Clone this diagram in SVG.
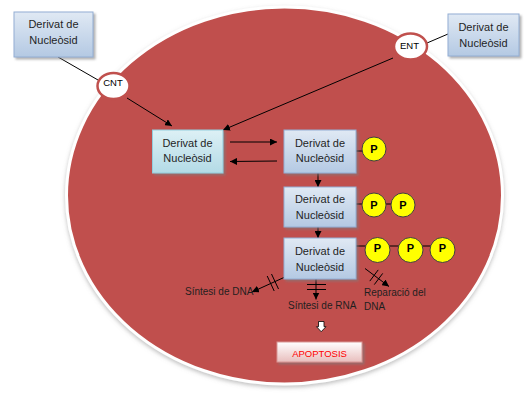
<svg xmlns="http://www.w3.org/2000/svg" width="527" height="400" viewBox="0 0 527 400">
  <defs>
    <linearGradient id="gBlue" x1="0" y1="0" x2="0" y2="1">
      <stop offset="0" stop-color="#E0E9F4"/>
      <stop offset="1" stop-color="#B4C9E3"/>
    </linearGradient>
    <linearGradient id="gCyan" x1="0" y1="0" x2="0" y2="1">
      <stop offset="0" stop-color="#DDF0F5"/>
      <stop offset="1" stop-color="#B3DBE6"/>
    </linearGradient>
    <linearGradient id="gPink" x1="0" y1="0" x2="0" y2="1">
      <stop offset="0" stop-color="#FFFFFF"/>
      <stop offset="1" stop-color="#E8BEBD"/>
    </linearGradient>
    <filter id="sh" x="-20%" y="-20%" width="150%" height="150%">
      <feDropShadow dx="2" dy="2" stdDeviation="1" flood-color="#7F7F7F" flood-opacity="0.6"/>
    </filter>
    <filter id="shE" x="-5%" y="-5%" width="110%" height="110%">
      <feDropShadow dx="0" dy="2" stdDeviation="2" flood-color="#808080" flood-opacity="0.5"/>
    </filter>
    <marker id="ah" viewBox="0 0 10 10" refX="10" refY="5" markerWidth="7" markerHeight="7" markerUnits="userSpaceOnUse" orient="auto">
      <path d="M0,0 L10,5 L0,10 Z" fill="#000"/>
    </marker>
    <style>
      .boxB { fill: url(#gBlue); stroke: #93AED3; stroke-width: 1; filter: url(#sh); }
      .boxC { fill: url(#gCyan); stroke: #93CDDD; stroke-width: 1; filter: url(#sh); }
      .boxP { fill: url(#gPink); stroke: #D99694; stroke-width: 1; filter: url(#sh); }
      .t { font-family: "Liberation Sans", Arial, sans-serif; font-size: 11px; fill: #1F1F1F; text-anchor: middle; }
      .s { font-family: "Liberation Sans", Arial, sans-serif; font-size: 10px; fill: #1F1F1F; }
      .tr { font-family: "Liberation Sans", Arial, sans-serif; font-size: 9.5px; fill: #000; text-anchor: middle; }
      .p { font-family: "Liberation Sans", Arial, sans-serif; font-size: 11px; font-weight: bold; fill: #000; text-anchor: middle; }
      .pc { fill: #FFFF00; stroke: #404040; stroke-width: 1; }
      .ln { stroke: #000; stroke-width: 1; fill: none; }
      .arr { stroke: #000; stroke-width: 1; fill: none; marker-end: url(#ah); }
      .tp { fill: #FFFFFF; stroke: #C0504D; stroke-width: 2.5; }
    </style>
  </defs>

  <g id="cell">
    <ellipse cx="284.5" cy="195.5" rx="218" ry="188.5" fill="#C0504D" stroke="#FFFFFF" stroke-width="3" filter="url(#shE)"/>
  </g>

  <g id="connectors">
    <line class="ln" x1="58" y1="57" x2="98" y2="80"/>
    <line class="arr" x1="127" y1="98" x2="172" y2="126"/>
    <line class="ln" x1="448" y1="34" x2="427" y2="43"/>
    <line class="arr" x1="393" y1="58" x2="223" y2="130"/>
    <line class="arr" x1="230" y1="142" x2="277" y2="142"/>
    <line class="arr" x1="277" y1="161" x2="230" y2="161.5"/>
    <line class="arr" x1="318" y1="173" x2="318" y2="187"/>
    <line class="arr" x1="318" y1="227" x2="318" y2="238"/>
    <line class="ln" x1="356" y1="151" x2="362" y2="151"/>
    <line class="ln" x1="356" y1="204" x2="402" y2="204"/>
    <line class="ln" x1="356" y1="246" x2="442" y2="246"/>
    <line class="arr" x1="285" y1="277" x2="252" y2="292"/>
    <line class="ln" x1="267.2" y1="276" x2="274.2" y2="291"/>
    <line class="ln" x1="271.5" y1="274" x2="278.5" y2="289"/>
    <line class="arr" x1="316" y1="279" x2="316" y2="299.5"/>
    <line class="ln" x1="307" y1="284.5" x2="326" y2="284.5"/>
    <line class="ln" x1="307" y1="289.5" x2="326" y2="289.5"/>
    <line class="arr" x1="365" y1="268.5" x2="389" y2="286.5"/>
    <line class="ln" x1="369.8" y1="281.1" x2="378.2" y2="269.9"/>
    <line class="ln" x1="374.3" y1="284.6" x2="382.7" y2="273.4"/>
    <path d="M318.5,321.5 H324 V326.7 H326 L321.2,331.7 L316.5,326.7 H318.5 Z" fill="#FFFFFF" stroke="#000" stroke-width="0.8"/>
  </g>

  <g id="nodeSrc1">
    <rect class="boxB" x="14" y="12" width="79" height="45"/>
    <text class="t" x="53.5" y="27.5">Derivat de</text>
    <text class="t" x="53.5" y="43.5">Nucleòsid</text>
  </g>
  <g id="nodeSrc2">
    <rect class="boxB" x="448" y="14" width="71" height="42"/>
    <text class="t" x="483.5" y="30.5">Derivat de</text>
    <text class="t" x="483.5" y="46.5">Nucleòsid</text>
  </g>
  <g id="CNT">
    <ellipse class="tp" cx="113.5" cy="86" rx="16" ry="13"/>
    <text class="tr" x="113" y="86">CNT</text>
  </g>
  <g id="ENT">
    <ellipse class="tp" cx="410.5" cy="46.5" rx="16.5" ry="13"/>
    <text class="tr" x="409.5" y="48.5">ENT</text>
  </g>
  <g id="node1">
    <rect class="boxC" x="152.5" y="130" width="70.5" height="43"/>
    <text class="t" x="187.5" y="146.5">Derivat de</text>
    <text class="t" x="187.5" y="162">Nucleòsid</text>
  </g>
  <g id="nodeMP">
    <rect class="boxB" x="284" y="130" width="72" height="43"/>
    <text class="t" x="320" y="146.5">Derivat de</text>
    <text class="t" x="320" y="162">Nucleòsid</text>
    <circle class="pc" cx="374" cy="149" r="12"/>
    <text class="p" x="374" y="153">P</text>
  </g>
  <g id="nodeDP">
    <rect class="boxB" x="284" y="187" width="72" height="40"/>
    <text class="t" x="320" y="203">Derivat de</text>
    <text class="t" x="320" y="219">Nucleòsid</text>
    <circle class="pc" cx="374" cy="205" r="12"/>
    <text class="p" x="374" y="209">P</text>
    <circle class="pc" cx="403" cy="205" r="12"/>
    <text class="p" x="403" y="209">P</text>
  </g>
  <g id="nodeTP">
    <rect class="boxB" x="284" y="238" width="72" height="41"/>
    <text class="t" x="320" y="255">Derivat de</text>
    <text class="t" x="320" y="271">Nucleòsid</text>
    <circle class="pc" cx="377.5" cy="250" r="12.5"/>
    <text class="p" x="377.5" y="252">P</text>
    <circle class="pc" cx="410.5" cy="250" r="12.5"/>
    <text class="p" x="410.5" y="252">P</text>
    <circle class="pc" cx="442.5" cy="250" r="12.5"/>
    <text class="p" x="442.5" y="252">P</text>
  </g>
  <g id="labels">
    <text class="s" x="185" y="295">Síntesi de DNA</text>
    <text class="s" x="288" y="309">Síntesi de RNA</text>
    <text class="s" x="364" y="296">Reparació del</text>
    <text class="s" x="364" y="310">DNA</text>
  </g>
  <g id="apoptosis">
    <rect class="boxP" x="277" y="342" width="85" height="20"/>
    <text x="319.5" y="357" font-family="Liberation Sans, Arial, sans-serif" font-size="9.5" fill="#FF0000" text-anchor="middle">APOPTOSIS</text>
  </g>
</svg>
